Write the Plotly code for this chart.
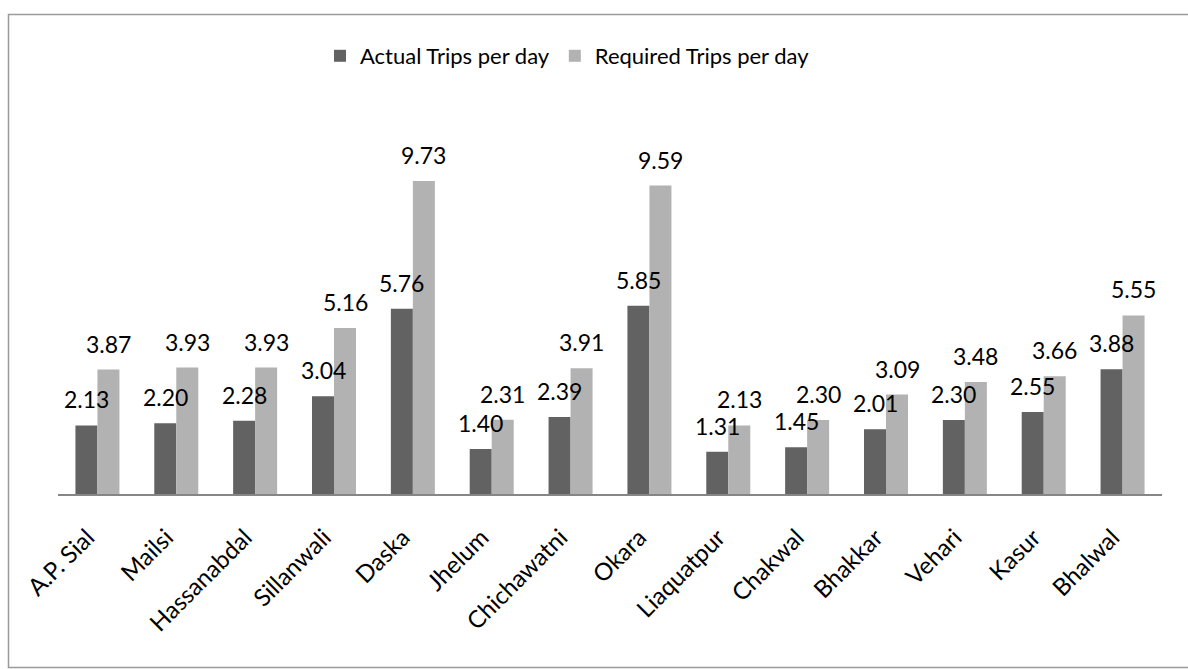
import plotly.graph_objects as go

categories = ["A.P. Sial", "Mailsi", "Hassanabdal", "Sillanwali", "Daska", "Jhelum",
              "Chichawatni", "Okara", "Liaquatpur", "Chakwal", "Bhakkar", "Vehari",
              "Kasur", "Bhalwal"]
actual = [2.13, 2.20, 2.28, 3.04, 5.76, 1.40, 2.39, 5.85, 1.31, 1.45, 2.01, 2.30, 2.55, 3.88]
required = [3.87, 3.93, 3.93, 5.16, 9.73, 2.31, 3.91, 9.59, 2.13, 2.30, 3.09, 3.48, 3.66, 5.55]
series_names = ["Actual Trips per day", "Required Trips per day"]
colors = ["#626262", "#b2b2b2"]

W, H = 1188, 669
PL, PR, PT, PB = 58, 1162, 108, 494  # plot area in px
FONT = "Lato, Carlito, 'Open Sans', sans-serif"

idx = list(range(len(categories)))
fig = go.Figure()
for name, vals, c in zip(series_names, [actual, required], colors):
    fig.add_trace(go.Bar(x=idx, y=vals, name=name, marker=dict(color=c, line=dict(width=0))))

bargap = 0.442
half = (1 - bargap) / 4
annotations = []
for vals, off in [(actual, -half), (required, half)]:
    for i, v in enumerate(vals):
        annotations.append(dict(x=i + off, y=v, xref="x", yref="y", text=f"{v:.2f}",
                                showarrow=False, yanchor="bottom", xanchor="center",
                                yshift=10, font=dict(family=FONT, size=23, color="#000")))

def px_x(p):
    return (p - PL) / (PR - PL)

def px_y(p):
    return (PB - p) / (PB - PT)

fig.update_layout(
    width=W, height=H,
    margin=dict(l=PL, r=W - PR, t=PT, b=H - PB, pad=0),
    paper_bgcolor="white", plot_bgcolor="white",
    barmode="group", bargap=bargap, bargroupgap=0,
    font=dict(family=FONT, size=22, color="#000"),
    showlegend=True,
    legend=dict(orientation="h", x=px_x(320), xanchor="left", y=px_y(56), yanchor="middle",
                font=dict(family=FONT, size=22, color="#000"),
                bgcolor="rgba(0,0,0,0)", traceorder="normal"),
    xaxis=dict(tickmode="array", tickvals=idx, ticktext=categories, tickangle=-45,
               range=[-0.5, len(categories) - 0.5], showgrid=False, zeroline=False,
               showline=True, linecolor="#868686", linewidth=2, ticks="",
               tickfont=dict(family=FONT, size=24, color="#000"),
               ticklabelstandoff=18, ticklabelshift=-10),
    yaxis=dict(range=[0, 12], visible=False, showgrid=False, zeroline=False),
    annotations=annotations,
    shapes=[dict(type="rect", xref="paper", yref="paper",
                 x0=px_x(8.5), x1=px_x(1192), y0=px_y(667.5), y1=px_y(14.5),
                 line=dict(color="#9a9a9a", width=1.5), fillcolor="rgba(0,0,0,0)", layer="below")],
)

fig.write_html("out.html")
